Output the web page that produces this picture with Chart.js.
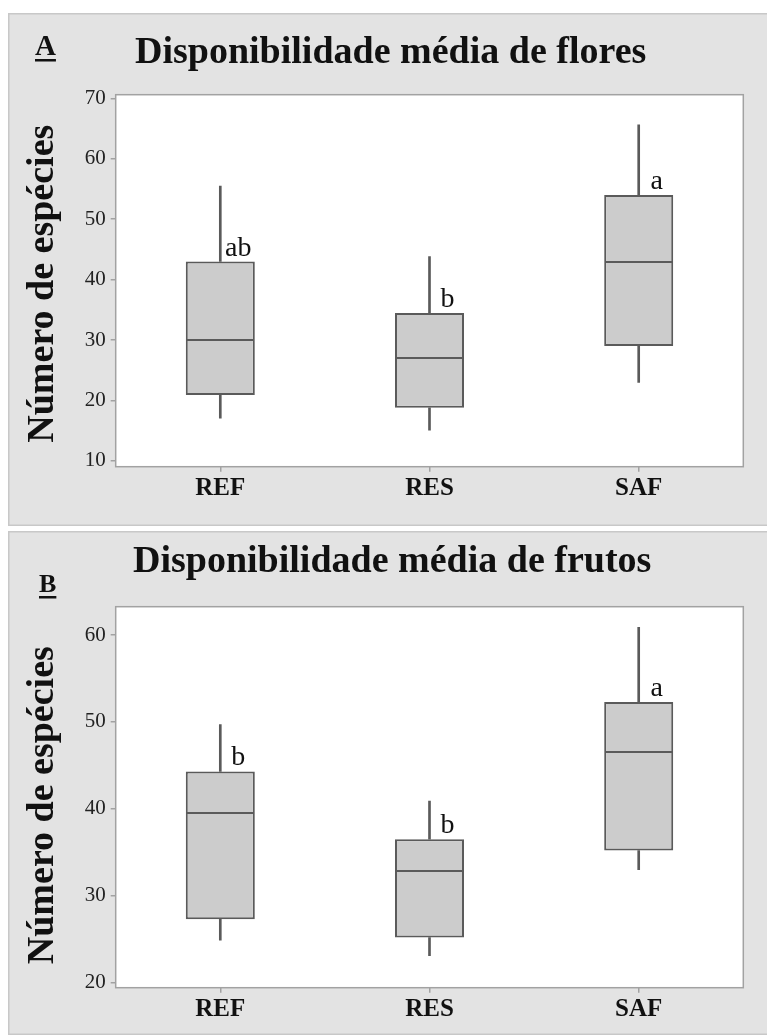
<!DOCTYPE html>
<html>
<head>
<meta charset="utf-8">
<script src="https://cdn.jsdelivr.net/npm/chart.js@4.4.1/dist/chart.umd.min.js"></script>
<style>
  html, body { margin: 0; padding: 0; background: #ffffff; width: 767px; height: 1035px; overflow: hidden; }
  canvas { position: absolute; display: block; }
  #chartFlores { left: 8px; top: 13px; }
  #chartFrutos { left: 8px; top: 531px; }
</style>
</head>
<body>
<canvas id="chartFlores" width="759" height="513"></canvas>
<canvas id="chartFrutos" width="759" height="504"></canvas>
<script>
// Treatments on the x axis
const categories = ['REF', 'RES', 'SAF'];

// A: mean flower availability (number of species)
const floresMin    = [17.1, 15.1, 23.0];
const floresQ1     = [20.9, 18.8, 29.0];
const floresMedian = [30.0, 27.1, 43.0];
const floresQ3     = [43.0, 34.5, 54.0];
const floresMax    = [55.5, 43.8, 65.6];
const floresLetters = ['ab', 'b', 'a'];
const floresTicks   = [10, 20, 30, 40, 50, 60, 70];

// B: mean fruit availability (number of species)
const frutosMin    = [24.9, 23.1, 33.0];
const frutosQ1     = [27.3, 25.2, 35.2];
const frutosMedian = [39.5, 32.9, 46.5];
const frutosQ3     = [44.3, 36.5, 52.3];
const frutosMax    = [49.7, 40.9, 60.9];
const frutosLetters = ['b', 'b', 'a'];
const frutosTicks   = [20, 30, 40, 50, 60];

const Y_LABEL = 'Número de espécies';
const SERIF = '"Liberation Serif", "Times New Roman", serif';
const LINE = '#5a5a5a';

// Panel background, plot frame, medians, group letters and headings
const boxplotDecor = {
  id: 'boxplotDecor',
  beforeDraw(chart) {
    const { ctx, chartArea: a, width, height } = chart;
    ctx.save();
    ctx.fillStyle = '#e3e3e3';
    ctx.fillRect(0, 0, width, height);
    ctx.strokeStyle = '#c8c8c8';
    ctx.lineWidth = 1.5;
    ctx.strokeRect(0.75, 0.75, width + 4, height - 1.5);
    ctx.fillStyle = '#ffffff';
    ctx.fillRect(a.left, a.top, a.right - a.left, a.bottom - a.top);
    ctx.restore();
  },
  afterDatasetsDraw(chart) {
    const o = chart.options.plugins.boxplotDecor;
    const { ctx, scales: { x, y } } = chart;
    const boxes = chart.getDatasetMeta(0).data;
    ctx.save();
    ctx.strokeStyle = LINE;
    ctx.lineWidth = 2;
    o.median.forEach((m, i) => {
      const el = boxes[i];
      const py = Math.round(y.getPixelForValue(m));
      ctx.beginPath();
      ctx.moveTo(el.x - el.width / 2 + 1, py);
      ctx.lineTo(el.x + el.width / 2 - 1, py);
      ctx.stroke();
    });
    ctx.fillStyle = '#111111';
    ctx.font = '28px ' + SERIF;
    ctx.textAlign = 'center';
    ctx.textBaseline = 'alphabetic';
    o.letters.forEach((t, i) => {
      ctx.fillText(t, x.getPixelForValue(i) + 18, y.getPixelForValue(o.q3[i]) - 6);
    });
    ctx.restore();
  },
  afterDraw(chart) {
    const o = chart.options.plugins.boxplotDecor;
    const { ctx, chartArea: a } = chart;
    ctx.save();
    ctx.strokeStyle = '#a2a2a2';
    ctx.lineWidth = 1.5;
    ctx.strokeRect(a.left, a.top, a.right - a.left, a.bottom - a.top);
    ctx.fillStyle = '#111111';
    ctx.textAlign = 'left';
    ctx.textBaseline = 'alphabetic';
    ctx.font = 'bold 38px ' + SERIF;
    ctx.fillText(o.title, o.titleX, o.titleY);
    ctx.font = 'bold ' + o.panelSize + 'px ' + SERIF;
    ctx.fillText(o.panel, o.panelX, o.panelY);
    const w = ctx.measureText(o.panel).width;
    ctx.fillRect(o.panelX, o.panelY + 4, w, 2.5);
    // vertical axis title, read bottom to top
    ctx.translate(o.yLabelX, (a.top + a.bottom) / 2 + o.yLabelShift);
    ctx.rotate(-Math.PI / 2);
    ctx.textAlign = 'center';
    ctx.font = 'bold 38px ' + SERIF;
    ctx.fillText(Y_LABEL, 0, 0);
    ctx.restore();
  }
};

function boxplotChart(id, d) {
  return new Chart(document.getElementById(id), {
    type: 'bar',
    data: {
      labels: categories,
      datasets: [
        {
          label: 'caixa',
          data: categories.map((c, i) => [d.q1[i], d.q3[i]]),
          backgroundColor: '#cccccc',
          borderColor: LINE,
          borderWidth: 2,
          borderSkipped: false,
          barPercentage: 0.33,
          categoryPercentage: 1,
          grouped: false,
          order: 0
        },
        {
          label: 'bigode superior',
          data: categories.map((c, i) => [d.q3[i], d.max[i]]),
          backgroundColor: LINE,
          borderWidth: 0,
          barThickness: 2,
          grouped: false,
          order: 1
        },
        {
          label: 'bigode inferior',
          data: categories.map((c, i) => [d.min[i], d.q1[i]]),
          backgroundColor: LINE,
          borderWidth: 0,
          barThickness: 2,
          grouped: false,
          order: 1
        }
      ]
    },
    options: {
      responsive: false,
      animation: false,
      devicePixelRatio: 1,
      layout: { padding: { left: 0, top: d.top, right: 23.7, bottom: 0 } },
      plugins: {
        legend: { display: false },
        title: { display: false },
        tooltip: { enabled: false },
        boxplotDecor: {
          median: d.median, q3: d.q3, letters: d.letters,
          title: d.title, titleX: d.titleX, titleY: d.titleY,
          panel: d.panel, panelX: d.panelX, panelY: d.panelY, panelSize: d.panelSize,
          yLabelX: 45, yLabelShift: d.yLabelShift
        }
      },
      scales: {
        x: {
          type: 'category',
          offset: true,
          grid: { display: true, offset: false, drawOnChartArea: false, drawTicks: true, tickLength: 5, color: '#a2a2a2', lineWidth: 1.5 },
          border: { display: false },
          ticks: { color: '#111111', padding: 2, font: { family: SERIF, size: 25, weight: 'bold' } },
          afterFit(s) { s.height = d.xHeight; }
        },
        y: {
          type: 'linear',
          min: d.yMin,
          max: d.yMax,
          grid: { display: true, drawOnChartArea: false, drawTicks: true, tickLength: 5, color: '#a2a2a2', lineWidth: 1.5 },
          border: { display: false },
          afterBuildTicks(s) { s.ticks = d.ticks.map(v => ({ value: v })); },
          ticks: { color: '#222222', padding: 5, font: { family: SERIF, size: 21 } },
          afterFit(s) { s.width = 107.7; }
        }
      }
    },
    plugins: [boxplotDecor]
  });
}

boxplotChart('chartFlores', {
  min: floresMin, q1: floresQ1, median: floresMedian, q3: floresQ3, max: floresMax,
  letters: floresLetters, ticks: floresTicks, yMin: 9.05, yMax: 70.6,
  top: 81.7, xHeight: 59.3,
  title: 'Disponibilidade média de flores', titleX: 127, titleY: 50,
  panel: 'A', panelX: 27, panelY: 42, panelSize: 29, yLabelShift: 3
});

boxplotChart('chartFrutos', {
  min: frutosMin, q1: frutosQ1, median: frutosMedian, q3: frutosQ3, max: frutosMax,
  letters: frutosLetters, ticks: frutosTicks, yMin: 19.42, yMax: 63.26,
  top: 75.7, xHeight: 47.3,
  title: 'Disponibilidade média de frutos', titleX: 125, titleY: 41,
  panel: 'B', panelX: 31, panelY: 61, panelSize: 26, yLabelShift: 8
});
</script>
</body>
</html>
